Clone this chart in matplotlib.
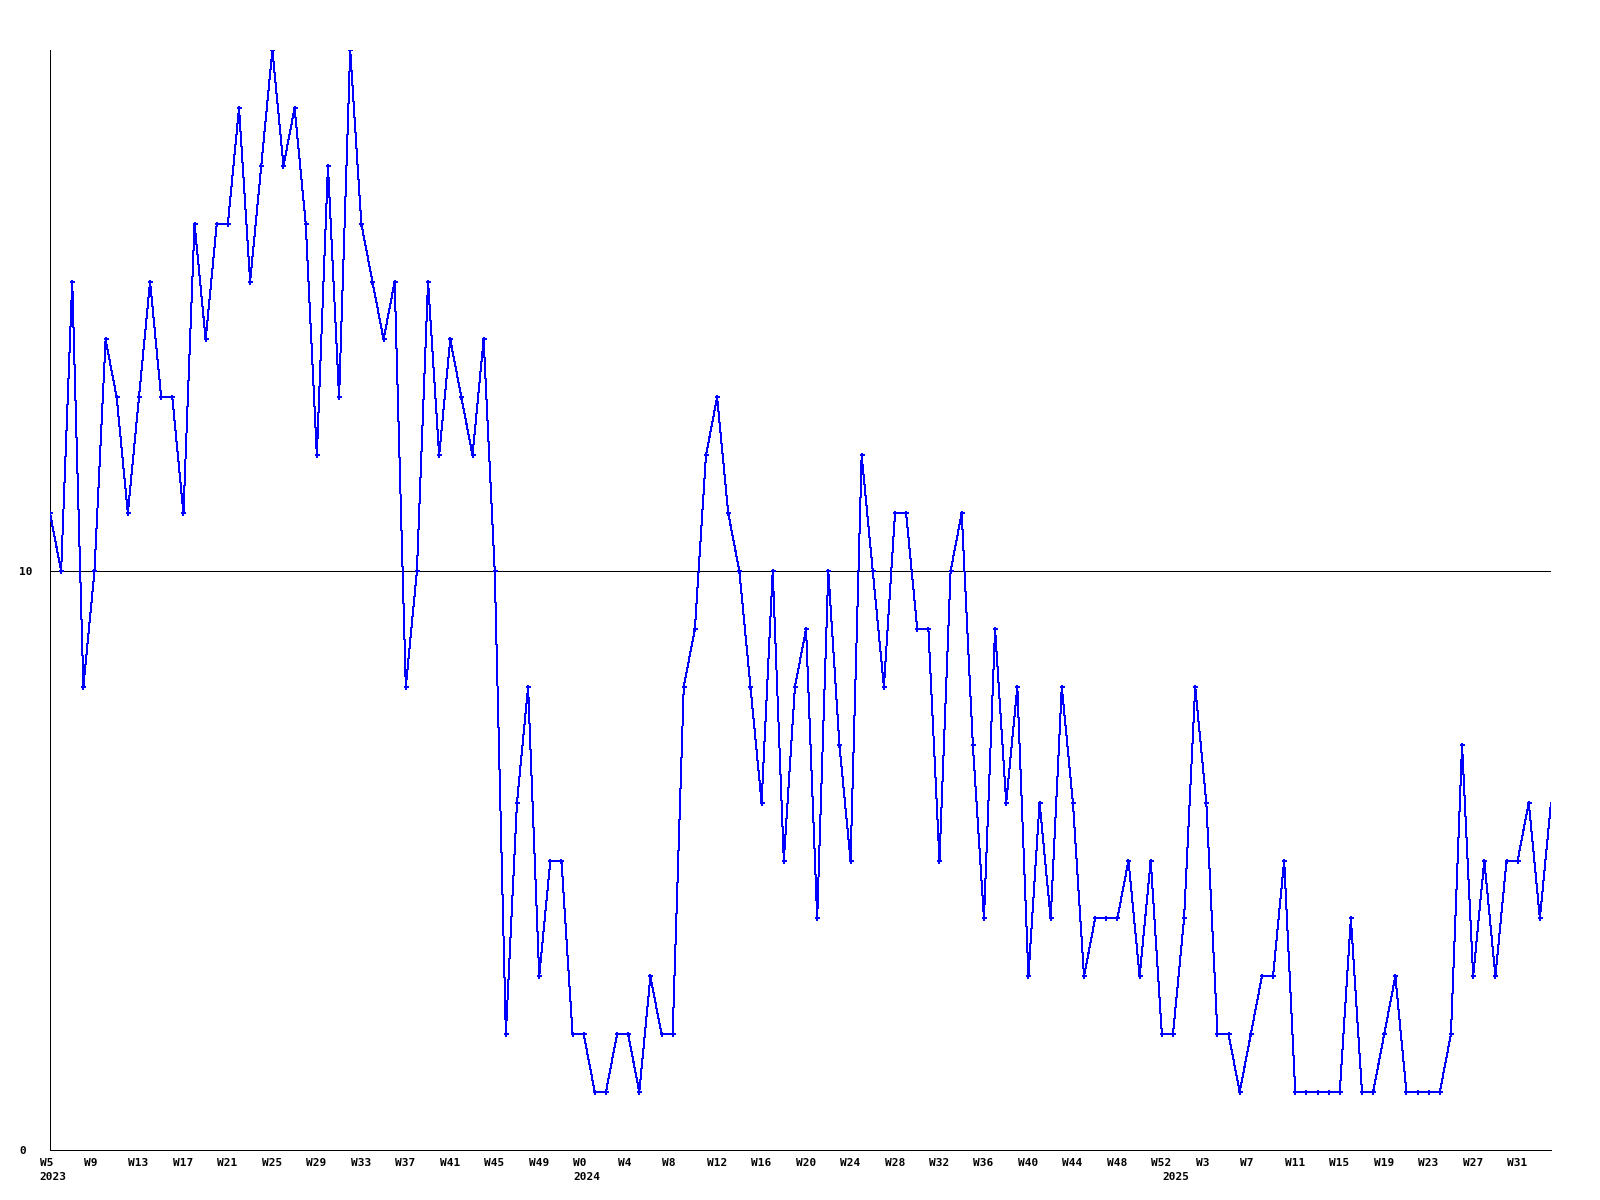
import matplotlib
matplotlib.use("Agg")
import matplotlib.pyplot as plt
from matplotlib.transforms import ScaledTranslation, blended_transform_factory

# ---- data -------------------------------------------------------------
values_2023 = [11, 10, 15, 8, 10, 14, 13, 11, 13, 15, 13, 13, 11, 16, 14, 16,
               16, 18, 15, 17, 19, 17, 18, 16, 12, 17, 13, 19, 16, 15, 14, 15,
               8, 10, 15, 12, 14, 13, 12, 14, 10, 2, 6, 8, 3, 5, 5, 2]          # W5..W52
values_2024 = [2, 1, 1, 2, 2, 1, 3, 2, 2, 8, 9, 12, 13, 11, 10, 8, 6, 10, 5, 8,
               9, 4, 10, 7, 5, 12, 10, 8, 11, 11, 9, 9, 5, 10, 11, 7, 4, 9, 6,
               8, 3, 6, 4, 8, 6, 3, 4, 4, 4, 5, 3, 5, 2]                        # W0..W52
values_2025 = [2, 4, 8, 6, 2, 2, 1, 2, 3, 3, 5, 1, 1, 1, 1, 1, 4, 1, 1, 2, 3,
               1, 1, 1, 1, 2, 7, 3, 5, 3, 5, 5, 6, 4, 6]                        # W0..W34

week_labels_2023 = ["W5", "W9", "W13", "W17", "W21", "W25", "W29", "W33",
                    "W37", "W41", "W45", "W49"]
week_labels_2024 = ["W0", "W4", "W8", "W12", "W16", "W20", "W24", "W28",
                    "W32", "W36", "W40", "W44", "W48", "W52"]
week_labels_2025 = ["W3", "W7", "W11", "W15", "W19", "W23", "W27", "W31"]
year_labels = ["2023", "2024", "2025"]
y_tick_values = [0, 10]
reference_level = 10

values = values_2023 + values_2024 + values_2025
n = len(values)
x = list(range(n))
year_starts = [0, len(values_2023), len(values_2023) + len(values_2024)]
week_labels = week_labels_2023 + week_labels_2024 + week_labels_2025
week_positions = list(range(0, n, 4))[:len(week_labels)]

# ---- figure -----------------------------------------------------------
W, H, DPI = 1600, 1200, 100
fig = plt.figure(figsize=(W / DPI, H / DPI), dpi=DPI, facecolor="white")
ax = fig.add_axes([50 / W, 50 / H, 1501 / W, 1100 / H])
ax.set_xlim(0, n - 1)
ax.set_ylim(0, 19)

px = 72 / DPI  # one pixel in points
ax.axhline(reference_level, color="black", lw=px, antialiased=False, zorder=1)
ax.plot(x, values, color="#0000ff", lw=px, antialiased=False, zorder=3,
        marker="P", markersize=3.6, markeredgewidth=0,
        markerfacecolor="#0000ff", markevery=list(range(n - 1)))

for side in ("top", "right"):
    ax.spines[side].set_visible(False)
for side in ("left", "bottom"):
    ax.spines[side].set_linewidth(px)
    ax.spines[side].set_color("black")
    ax.spines[side].set_antialiased(False)
ax.set_xticks([])
ax.set_yticks([])

font = dict(family="DejaVu Sans Mono", weight="bold", size=8.0, color="black")

def offset(dx_px, dy_px):
    return ScaledTranslation(dx_px / DPI, dy_px / DPI, fig.dpi_scale_trans)

xt = ax.get_xaxis_transform()
for pos, lab in zip(week_positions, week_labels):
    ax.text(pos, 0, lab, transform=xt + offset(-10.5, -15.5), ha="left",
            va="baseline", **font)
for pos, lab in zip(year_starts, year_labels):
    ax.text(pos, 0, lab, transform=xt + offset(-10.5, -30.5), ha="left",
            va="baseline", **font)

yt = blended_transform_factory(fig.transFigure, ax.transData)
for v in y_tick_values:
    ax.text(19 / W, v, str(v), transform=yt + offset(0, -3.8), ha="left",
            va="baseline", **font)

fig.savefig("out.png", dpi=DPI, facecolor="white")
